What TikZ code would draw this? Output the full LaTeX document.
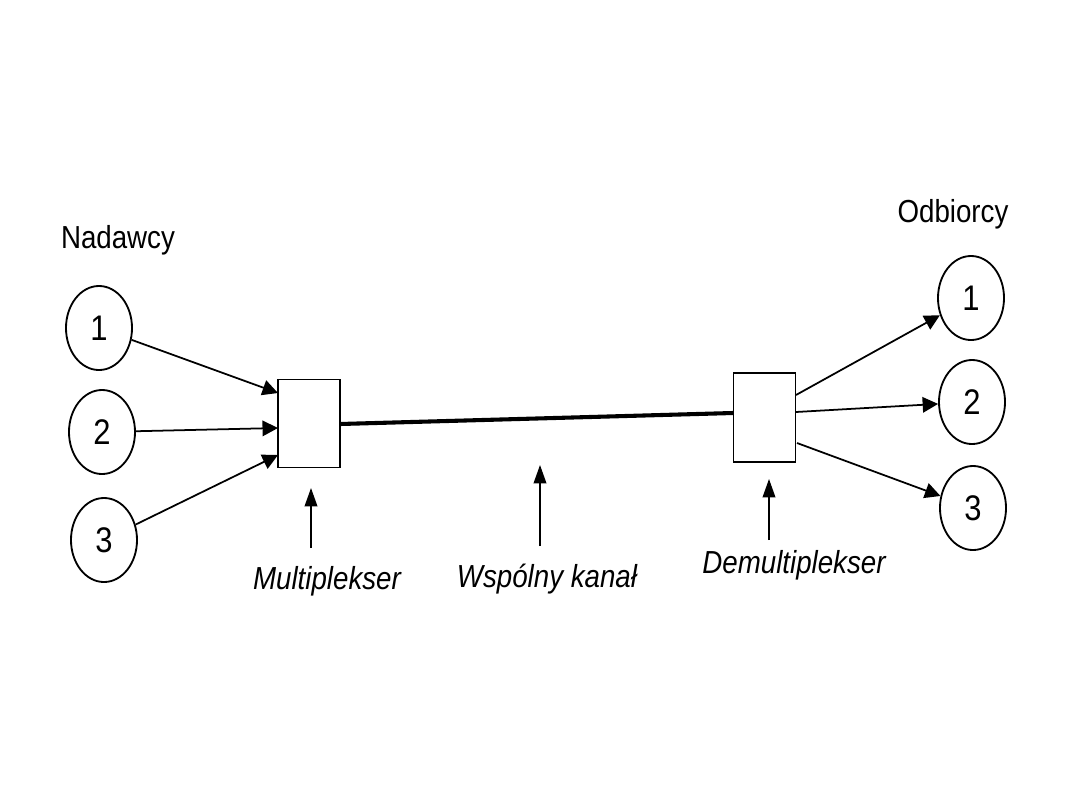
\documentclass[tikz,border=0pt]{standalone}
\usepackage{fontspec}
\setmainfont{Liberation Sans}
\usetikzlibrary{shapes.geometric,arrows.meta}
\tikzset{
  station/.style={ellipse,draw,line width=1.3pt,minimum width=1.65cm,minimum height=2.1cm,inner sep=0pt,font=\fontsize{22}{24}\selectfont},
  muxbox/.style={draw,line width=1.3pt,minimum width=1.55cm,minimum height=2.2cm,inner sep=0pt},
  feed/.style={line width=1.25pt,-{Triangle[length=11pt,width=11pt]}},
  pointer/.style={line width=1pt,-{Triangle[length=13pt,width=9pt]}},
  channel/.style={line width=2.9pt},
  lbl/.style={font=\fontsize{19.7}{22}\selectfont,inner sep=0pt,anchor=base},
}
\newcommand{\stretchtxt}[1]{\scalebox{1}[1.15]{#1}}
\begin{document}
\begin{tikzpicture}[x=0.025cm,y=-0.025cm]
  \useasboundingbox (0,0) rectangle (1080,810);
  % senders
  \node[station] (l1) at (99,328) {\stretchtxt{1}};
  \node[station] (l2) at (102,432) {\stretchtxt{2}};
  \node[station] (l3) at (104,540) {\stretchtxt{3}};
  % receivers
  \node[station] (r1) at (971,298) {\stretchtxt{1}};
  \node[station] (r2) at (972,402) {\stretchtxt{2}};
  \node[station] (r3) at (973,508) {\stretchtxt{3}};
  % boxes
  \node[muxbox] (mux) at (309,423.5) {};
  \node[muxbox,minimum height=2.22cm] (demux) at (764.5,417.5) {};
  % box contact points
  \coordinate (mi1) at (278,393);
  \coordinate (mi2) at (278,428);
  \coordinate (mi3) at (278,455);
  \coordinate (mo1) at (796,395);
  \coordinate (mo2) at (796,412);
  \coordinate (mo3) at (797,443);
  \coordinate (ce) at (340,424);
  \coordinate (cw) at (733,413);
  % connectors
  \draw[feed] (l1) -- (mi1);
  \draw[feed] (l2) -- (mi2);
  \draw[feed] (l3) -- (mi3);
  \draw[feed] (mo1) -- (r1);
  \draw[feed] (mo2) -- (r2);
  \draw[feed] (mo3) -- (r3);
  \draw[channel] (ce) -- (cw);
  % labels
  \node[lbl] (tn) at (118,248) {\stretchtxt{Nadawcy}};
  \node[lbl] (to) at (953,222) {\stretchtxt{Odbiorcy}};
  \node[lbl,font=\fontsize{19.7}{22}\selectfont\itshape] (tm) at (327,589) {\stretchtxt{Multiplekser}};
  \node[lbl,font=\fontsize{19.7}{22}\selectfont\itshape] (tw) at (547,587) {\stretchtxt{Wspólny kanał}};
  \node[lbl,font=\fontsize{19.7}{22}\selectfont\itshape] (td) at (794,573) {\stretchtxt{Demultiplekser}};
  % pointers
  \coordinate (pm0) at (311,548);
  \coordinate (pm1) at (311,488);
  \coordinate (pc0) at (540,546);
  \coordinate (pc1) at (540,465);
  \coordinate (pd0) at (769,540);
  \coordinate (pd1) at (769,479);
  \draw[pointer] (pm0) -- (pm1);
  \draw[pointer] (pc0) -- (pc1);
  \draw[pointer] (pd0) -- (pd1);
\end{tikzpicture}
\end{document}
